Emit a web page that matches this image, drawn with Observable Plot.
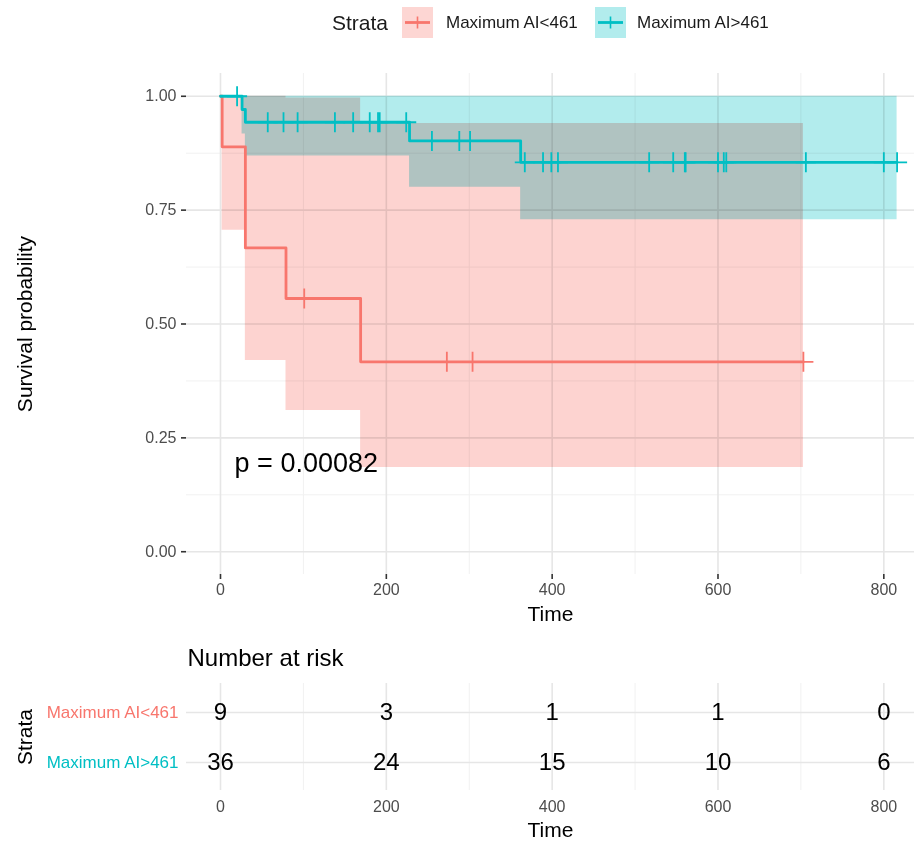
<!DOCTYPE html>
<html>
<head>
<meta charset="utf-8">
<script src="https://cdn.jsdelivr.net/npm/d3@7"></script>
<script src="https://cdn.jsdelivr.net/npm/@observablehq/plot@0.6"></script>
<style>
  body { margin: 0; background: white; font-family: "Liberation Sans", Arial, sans-serif; }
  #wrap { width: 914px; }
  #legend { position: relative; width: 914px; height: 46px; }
  #legend .lbl { position: absolute; white-space: nowrap; color: #1a1a1a; }
  #legend svg { position: absolute; }
  svg { display: block; }
</style>
</head>
<body>
<div id="wrap">
  <div id="legend"></div>
  <div id="main"></div>
  <div id="risk"></div>
</div>
<script>
// ---------- data ----------
const strata = ["Maximum AI<461", "Maximum AI>461"];
const strataColors = ["#F8766D", "#00BFC4"];
const legendTitle = "Strata";

// Kaplan-Meier step curve: Maximum AI<461
const redTime  = [0, 2, 30, 79, 169, 703];
const redSurv  = [1, 0.889, 0.667, 0.556, 0.417, 0.417];
const redLower = [1, 0.706, 0.420, 0.310, 0.185, 0.185];
const redUpper = [1, 1, 1, 0.996, 0.940, 0.940];
const redCensorTime = [101, 273, 304, 703];
const redCensorSurv = [0.556, 0.417, 0.417, 0.417];

// Kaplan-Meier step curve: Maximum AI>461
const tealTime  = [0, 26, 30, 228, 362, 816];
const tealSurv  = [1, 0.971, 0.943, 0.902, 0.855, 0.855];
const tealLower = [1, 0.917, 0.869, 0.800, 0.729, 0.729];
const tealUpper = [1, 1, 1, 1, 1, 1];
const tealCensorTime = [20, 57, 76, 93, 138, 160, 180, 190, 192, 224, 255, 288, 301,
                        367, 389, 399, 407, 517, 546, 560, 561, 600, 607, 610, 706, 800, 816];
const tealCensorSurv = [1, 0.943, 0.943, 0.943, 0.943, 0.943, 0.943, 0.943, 0.943, 0.943,
                        0.902, 0.902, 0.902,
                        0.855, 0.855, 0.855, 0.855, 0.855, 0.855, 0.855, 0.855, 0.855, 0.855, 0.855, 0.855, 0.855, 0.855];

// axes / ticks
const xMajor = [0, 200, 400, 600, 800];
const xMinor = [100, 300, 500, 700];
const yMajor = [0, 0.25, 0.5, 0.75, 1];
const yMinor = [0.125, 0.375, 0.625, 0.875];
const xDomain = [-41, 837];
const yDomain = [-0.05, 1.05];

// p-value annotation
const pLabel = "p = 0.00082";
const pX = 17;
const pY = 0.193;

// number at risk
const riskTimes = [0, 200, 400, 600, 800];
const riskRed  = [9, 3, 1, 1, 0];
const riskTeal = [36, 24, 15, 10, 6];

const xLabel = "Time";
const yLabel = "Survival probability";
const riskTitle = "Number at risk";

// ---------- build tables ----------
const mk = (t, a, b, c) => t.map((v, i) => ({t: v, s: a[i], lo: b[i], hi: c[i]}));
const redCurve = mk(redTime, redSurv, redLower, redUpper);
const tealCurve = mk(tealTime, tealSurv, tealLower, tealUpper);
const redCens = redCensorTime.map((t, i) => ({t, s: redCensorSurv[i]}));
const tealCens = tealCensorTime.map((t, i) => ({t, s: tealCensorSurv[i]}));
const riskData = [
  ...riskTimes.map((t, i) => ({t, strata: strata[0], n: riskRed[i]})),
  ...riskTimes.map((t, i) => ({t, strata: strata[1], n: riskTeal[i]}))
];

const FONT = "'Liberation Sans', Arial, Helvetica, sans-serif";
const gridMajor = "#E6E6E6";
const gridMinor = "#F1F1F1";

// ---------- legend ----------
const legend = document.getElementById("legend");
function addLabel(text, left, size) {
  const s = document.createElement("span");
  s.className = "lbl";
  s.textContent = text;
  s.style.left = left + "px";
  s.style.fontSize = size + "px";
  s.style.top = (23 - size * 0.58) + "px";
  legend.appendChild(s);
}
function addKey(left, color) {
  const svg = d3.create("svg").attr("width", 31).attr("height", 31)
    .style("left", left + "px").style("top", "7px");
  svg.append("rect").attr("width", 31).attr("height", 31).attr("fill", color).attr("fill-opacity", 0.3);
  svg.append("line").attr("x1", 3).attr("x2", 28).attr("y1", 15.5).attr("y2", 15.5)
    .attr("stroke", color).attr("stroke-width", 2.8);
  svg.append("line").attr("x1", 15.5).attr("x2", 15.5).attr("y1", 9.5).attr("y2", 21.5)
    .attr("stroke", color).attr("stroke-width", 1.6);
  legend.appendChild(svg.node());
}
addLabel(legendTitle, 332, 21);
addKey(402, strataColors[0]);
addLabel(strata[0], 446, 17);
addKey(595, strataColors[1]);
addLabel(strata[1], 637, 17);

// ---------- main plot ----------
const main = Plot.plot({
  width: 914,
  height: 584,
  marginTop: 27,
  marginBottom: 56,
  marginLeft: 186,
  marginRight: 0,
  style: {fontFamily: FONT, background: "white", overflow: "visible"},
  x: {domain: xDomain, axis: null},
  y: {domain: yDomain, axis: null},
  marks: [
    Plot.ruleX(xMinor, {stroke: gridMinor, strokeWidth: 1}),
    Plot.ruleY(yMinor, {stroke: gridMinor, strokeWidth: 1}),
    Plot.ruleX(xMajor, {stroke: gridMajor, strokeWidth: 1.6}),
    Plot.ruleY(yMajor, {stroke: gridMajor, strokeWidth: 1.6}),
    Plot.areaY(redCurve, {x: "t", y1: "lo", y2: "hi", curve: "step-after", fill: strataColors[0], fillOpacity: 0.32, mixBlendMode: "multiply"}),
    Plot.areaY(tealCurve, {x: "t", y1: "lo", y2: "hi", curve: "step-after", fill: strataColors[1], fillOpacity: 0.3, mixBlendMode: "multiply"}),
    Plot.line(redCurve, {x: "t", y: "s", curve: "step-after", stroke: strataColors[0], strokeWidth: 2.8}),
    Plot.line(tealCurve, {x: "t", y: "s", curve: "step-after", stroke: strataColors[1], strokeWidth: 2.8}),
    Plot.dot(redCens, {x: "t", y: "s", symbol: "plus", r: 6.5, stroke: strataColors[0], strokeWidth: 1.8}),
    Plot.dot(tealCens, {x: "t", y: "s", symbol: "plus", r: 6.5, stroke: strataColors[1], strokeWidth: 1.8}),
    Plot.axisX(xMajor, {tickSize: 5, tickPadding: 4, fontSize: 16, stroke: "#333333", strokeWidth: 1.6, fill: "#4D4D4D", label: null}),
    Plot.axisY(yMajor, {tickSize: 5, tickPadding: 5, fontSize: 16, stroke: "#333333", strokeWidth: 1.6, fill: "#4D4D4D", tickFormat: d3.format(".2f"), label: null}),
    Plot.text([xLabel], {frameAnchor: "bottom", dy: 40, textAnchor: "middle", lineAnchor: "middle", fontSize: 21, fill: "black"}),
    Plot.text([yLabel], {frameAnchor: "left", dx: -161, rotate: -90, textAnchor: "middle", lineAnchor: "middle", fontSize: 21, fill: "black"}),
    Plot.text([pLabel], {x: () => pX, y: () => pY, textAnchor: "start", lineAnchor: "middle", fontSize: 27, fill: "black"})
  ]
});
document.getElementById("main").appendChild(main);

// ---------- risk table ----------
const risk = Plot.plot({
  width: 914,
  height: 211,
  marginTop: 53,
  marginBottom: 51,
  marginLeft: 186,
  marginRight: 0,
  style: {fontFamily: FONT, background: "white", overflow: "visible"},
  x: {domain: xDomain, axis: null},
  y: {type: "point", domain: strata, padding: 0.57, axis: null},
  marks: [
    Plot.ruleX(xMinor, {stroke: gridMinor, strokeWidth: 1}),
    Plot.ruleX(xMajor, {stroke: gridMajor, strokeWidth: 1.6}),
    Plot.ruleY(strata, {y: d => d, stroke: gridMajor, strokeWidth: 1.6}),
    Plot.text(riskData, {x: "t", y: "strata", text: d => String(d.n), fontSize: 24, fill: "black", lineAnchor: "middle"}),
    Plot.text([strata[0]], {y: d => d, frameAnchor: "left", dx: -8, textAnchor: "end", lineAnchor: "middle", fontSize: 17, fill: strataColors[0]}),
    Plot.text([strata[1]], {y: d => d, frameAnchor: "left", dx: -8, textAnchor: "end", lineAnchor: "middle", fontSize: 17, fill: strataColors[1]}),
    Plot.axisX(xMajor, {tickSize: 0, tickPadding: 10, fontSize: 16, fill: "#4D4D4D", stroke: "none", label: null}),
    Plot.text([legendTitle], {frameAnchor: "left", dx: -161, rotate: -90, textAnchor: "middle", lineAnchor: "middle", fontSize: 21, fill: "black"}),
    Plot.text([riskTitle], {frameAnchor: "top-left", dx: 1, dy: -25, textAnchor: "start", lineAnchor: "middle", fontSize: 24, fill: "black"}),
    Plot.text([xLabel], {frameAnchor: "bottom", dy: 40, textAnchor: "middle", lineAnchor: "middle", fontSize: 21, fill: "black"})
  ]
});
document.getElementById("risk").appendChild(risk);
</script>
</body>
</html>
